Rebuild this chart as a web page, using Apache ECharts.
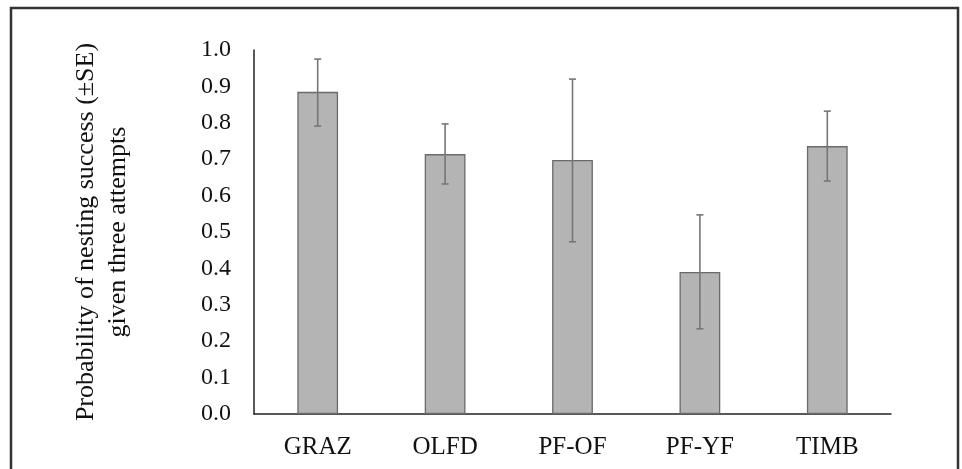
<!DOCTYPE html>
<html>
<head>
<meta charset="utf-8">
<script src="https://cdn.jsdelivr.net/npm/echarts@6/dist/echarts.min.js"></script>
<style>
  html, body { margin: 0; padding: 0; background: #fff; }
  #chart { width: 962px; height: 469px; }
</style>
</head>
<body>
<div id="chart"></div>
<script>
const categories = ["GRAZ", "OLFD", "PF-OF", "PF-YF", "TIMB"];
const successProb = [0.885, 0.714, 0.698, 0.390, 0.736];
const errLow = [0.791, 0.632, 0.473, 0.234, 0.640];
const errHigh = [0.975, 0.797, 0.920, 0.547, 0.832];

const FONT = "'Liberation Serif', 'Times New Roman', serif";

const chart = echarts.init(document.getElementById("chart"));

const errData = categories.map((c, i) => [i, errLow[i], errHigh[i]]);

const option = {
  animation: false,
  grid: { left: 254, right: 71, top: 50, bottom: 55 },
  graphic: [
    {
      type: "rect",
      shape: { x: 11, y: 8, width: 947, height: 500 },
      style: { fill: "none", stroke: "#333", lineWidth: 2.5 },
      silent: true,
    },
  ],
  xAxis: {
    type: "category",
    data: categories,
    axisLine: { lineStyle: { color: "#222", width: 1.5 } },
    axisTick: { show: false },
    axisLabel: { color: "#111", fontFamily: FONT, fontSize: 25, margin: 21 },
  },
  yAxis: {
    type: "value",
    min: 0,
    max: 1,
    interval: 0.1,
    name: "Probability of nesting success (±SE)\ngiven three attempts",
    nameLocation: "middle",
    nameRotate: 90,
    nameGap: 120,
    nameTextStyle: { color: "#111", fontFamily: FONT, fontSize: 26, lineHeight: 32 },
    axisLine: { show: true, lineStyle: { color: "#222", width: 1.5 } },
    axisTick: { show: false },
    splitLine: { show: false },
    axisLabel: {
      color: "#111",
      fontFamily: FONT,
      fontSize: 24,
      margin: 23,
      formatter: (v) => v.toFixed(1),
    },
  },
  series: [
    {
      type: "bar",
      data: successProb,
      barWidth: "32%",
      itemStyle: { color: "#b4b4b4", borderColor: "#6a6a6a", borderWidth: 1.3 },
    },
    {
      type: "custom",
      data: errData,
      z: 10,
      renderItem: function (params, api) {
        const x = api.value(0);
        const lo = api.coord([x, api.value(1)]);
        const hi = api.coord([x, api.value(2)]);
        const half = 3.5;
        const style = { stroke: "#767676", lineWidth: 1.6 };
        return {
          type: "group",
          children: [
            { type: "line", shape: { x1: lo[0], y1: lo[1], x2: hi[0], y2: hi[1] }, style },
            { type: "line", shape: { x1: hi[0] - half, y1: hi[1], x2: hi[0] + half, y2: hi[1] }, style },
            { type: "line", shape: { x1: lo[0] - half, y1: lo[1], x2: lo[0] + half, y2: lo[1] }, style },
          ],
        };
      },
    },
  ],
};

chart.setOption(option);
</script>
</body>
</html>
